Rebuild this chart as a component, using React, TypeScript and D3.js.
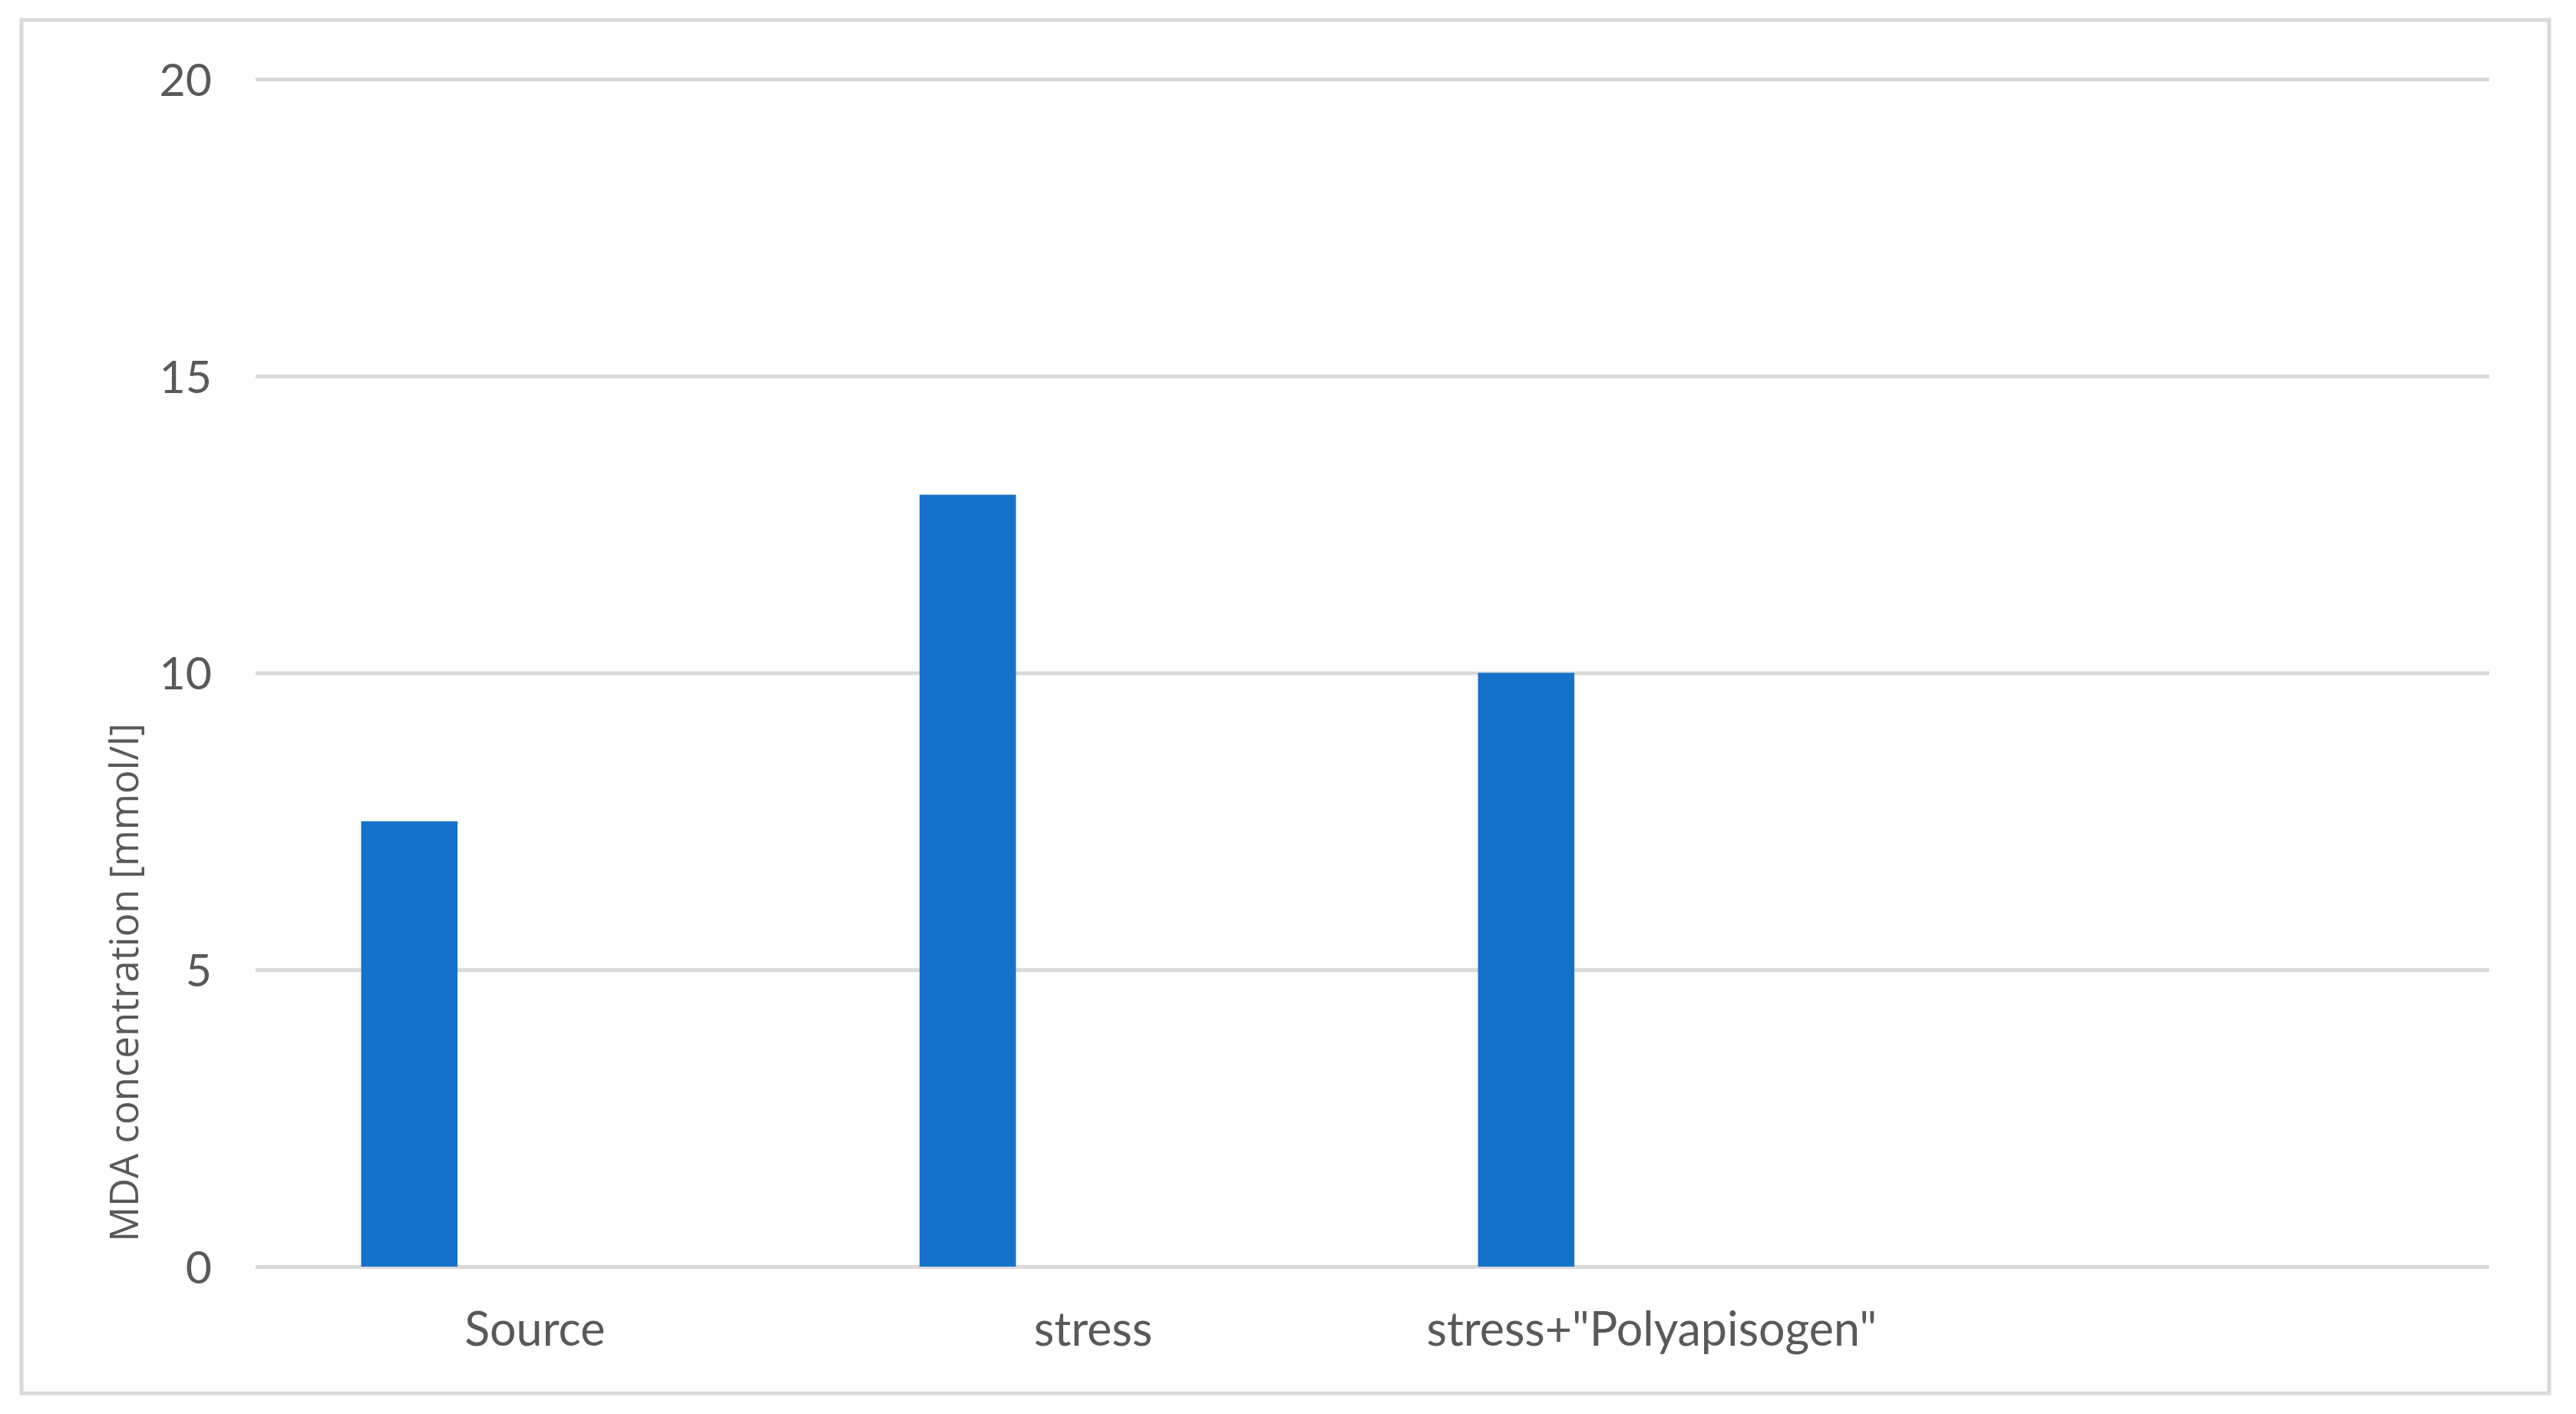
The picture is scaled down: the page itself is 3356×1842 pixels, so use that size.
import React, { useEffect, useRef } from 'react';
import * as d3 from 'd3';

// données
const categories = ['Source', 'stress', 'stress+"Polyapisogen"', ''];
const mdaValues: (number | null)[] = [7.5, 13, 10, null];
const yTicks = [0, 5, 10, 15, 20];
const yTitle = 'MDA concentration [mmol/l]';

const WIDTH = 3356;
const HEIGHT = 1842;

export default function App() {
  const svgRef = useRef<SVGSVGElement>(null);

  useEffect(() => {
    if (!svgRef.current) return;
    d3.select(svgRef.current).selectAll('*').remove();

    const svg = d3.select(svgRef.current)
      .attr('width', WIDTH)
      .attr('height', HEIGHT);

    const plot = { left: 333, right: 3243, top: 103, bottom: 1650 };

    // Cadre du graphique
    svg.append('rect')
      .attr('x', 28)
      .attr('y', 26)
      .attr('width', 3293)
      .attr('height', 1789)
      .attr('fill', '#ffffff')
      .attr('stroke', '#d9d9d9')
      .attr('stroke-width', 5);

    const xScale = d3.scaleBand<string>()
      .domain(categories.map((c, i) => `${i}`))
      .range([plot.left, plot.right])
      .padding(0);

    const yScale = d3.scaleLinear()
      .domain([0, 20])
      .range([plot.bottom, plot.top]);

    // Axe Y + grille
    const yAxis = d3.axisLeft(yScale)
      .tickValues(yTicks)
      .tickSize(-(plot.right - plot.left))
      .tickPadding(57)
      .tickFormat(d => `${d}`);

    const gy = svg.append('g')
      .attr('transform', `translate(${plot.left},0)`)
      .call(yAxis);

    gy.select('.domain').remove();
    gy.selectAll('.tick line')
      .attr('stroke', '#d9d9d9')
      .attr('stroke-width', 5);
    gy.selectAll('.tick text')
      .attr('fill', '#595959')
      .attr('dy', '0.36em')
      .style('font-family', 'Lato, sans-serif')
      .style('font-size', '59px');

    // Barres
    const band = xScale.bandwidth();
    svg.append('g')
      .selectAll('rect')
      .data(mdaValues.map((v, i) => ({ v, i })).filter(d => d.v !== null))
      .enter()
      .append('rect')
      .attr('x', d => (xScale(`${d.i}`) || 0) + band * 0.189)
      .attr('y', d => yScale(d.v as number))
      .attr('width', band * 0.1726)
      .attr('height', d => plot.bottom - yScale(d.v as number))
      .attr('fill', '#1672c8');

    // Étiquettes des catégories
    svg.append('g')
      .selectAll('text')
      .data(categories)
      .enter()
      .append('text')
      .attr('x', (d, i) => (xScale(`${i}`) || 0) + band / 2)
      .attr('y', 1753)
      .attr('text-anchor', 'middle')
      .attr('fill', '#595959')
      .style('font-family', 'Lato, sans-serif')
      .style('font-size', '61px')
      .text(d => d);

    // Titre de l'axe Y
    svg.append('text')
      .attr('transform', 'translate(180,1280) rotate(-90)')
      .attr('text-anchor', 'middle')
      .attr('fill', '#595959')
      .style('font-family', '"Open Sans", sans-serif')
      .style('font-size', '51px')
      .text(yTitle);
  }, []);

  return (
    <svg
      ref={svgRef}
      style={{ position: 'absolute', left: 0, top: 0, display: 'block', background: '#ffffff' }}
    ></svg>
  );
}
